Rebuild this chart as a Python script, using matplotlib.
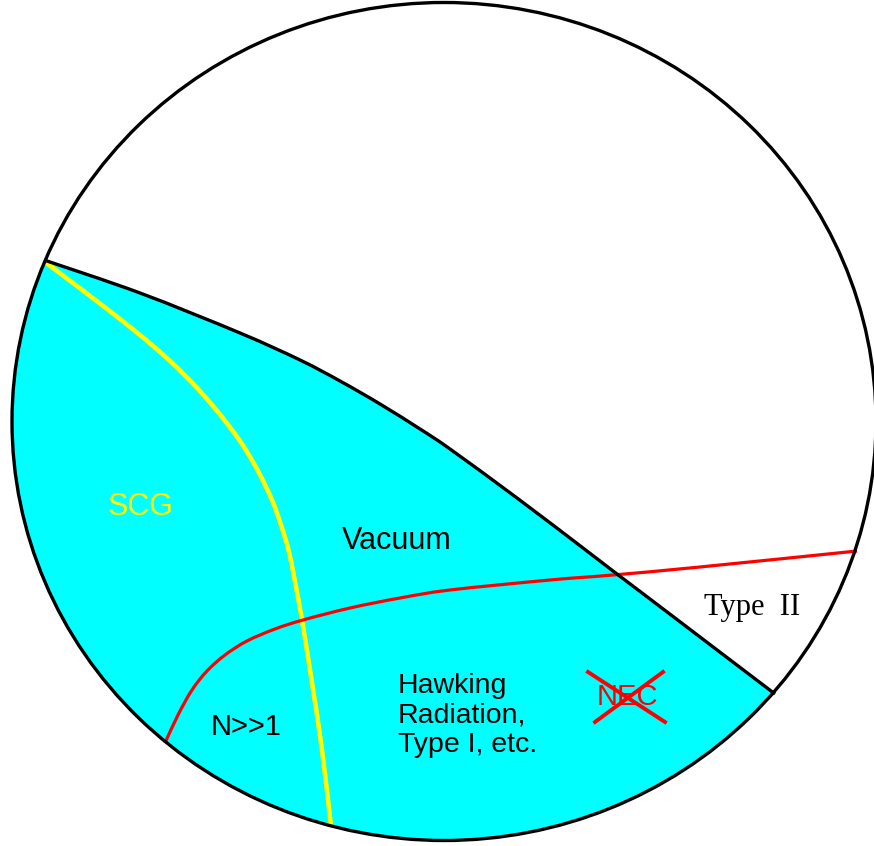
import matplotlib
matplotlib.use("Agg")
import matplotlib.pyplot as plt
import numpy as np
from matplotlib.patches import Ellipse, PathPatch
from matplotlib.path import Path

# diagram laid out in image pixel coordinates (y grows downward)
circle_center = (444, 421.5)
circle_size = (864, 838)

# black boundary between the cyan region and the white region
boundary_x = [44, 140, 240, 300, 340, 380, 420, 450, 517, 583, 613, 650, 700, 775]
boundary_y = [260, 293, 333, 360, 381, 404, 429, 449, 498, 548, 571, 599, 637, 694]

# yellow SCG curve
scg_x = [45, 73, 107, 140, 170, 198, 222, 242, 258, 272, 281, 289, 296, 302, 312, 322, 331]
scg_y = [262, 283, 309, 335, 361, 389, 417, 444, 471, 500, 525, 552, 587, 620, 683, 750, 826]

# red NEC curve
nec_x = [165, 178, 192, 207, 225, 247, 275, 303, 350, 400, 450, 550, 613, 700, 857]
nec_y = [743, 715, 690, 671, 655, 641, 629, 620, 608, 598, 590, 580, 575, 567, 551]

labels = ["SCG", "Vacuum", "N>>1", "Hawking\nRadiation,\nType I, etc.", "NEC", "Type  II"]


def smooth(xs, ys):
    """Vertices and codes of a Catmull-Rom curve through the given points."""
    pts = np.column_stack([xs, ys]).astype(float)
    verts = [pts[0]]
    codes = [Path.MOVETO]
    n = len(pts)
    for i in range(n - 1):
        p0 = pts[i - 1] if i > 0 else pts[i]
        p1, p2 = pts[i], pts[i + 1]
        p3 = pts[i + 2] if i + 2 < n else pts[i + 1]
        verts += [p1 + (p2 - p0) / 6, p2 - (p3 - p1) / 6, p2]
        codes += [Path.CURVE4] * 3
    return verts, codes


def curve(ax, xs, ys, **kw):
    verts, codes = smooth(xs, ys)
    ax.add_patch(PathPatch(Path(verts, codes), facecolor="none",
                           capstyle="butt", joinstyle="round", **kw))


fig = plt.figure(figsize=(8.74, 8.46), dpi=100)
ax = fig.add_axes([0, 0, 1, 1])
ax.set_xlim(0, 874)
ax.set_ylim(846, 0)
ax.axis("off")

# cyan region: below the boundary, clipped to the circle
clip = Ellipse(circle_center, *circle_size, transform=ax.transData,
               facecolor="none", edgecolor="none")
ax.add_patch(clip)
verts, codes = smooth(boundary_x, boundary_y)
extra = [(900, 783), (900, 900), (-20, 900), (-20, 252), verts[0]]
verts = verts + extra
codes = codes + [Path.LINETO] * (len(extra) - 1) + [Path.CLOSEPOLY]
fill = PathPatch(Path(verts, codes), facecolor="#00FFFF", edgecolor="none")
ax.add_patch(fill)
fill.set_clip_path(clip)

curve(ax, scg_x, scg_y, edgecolor="#FFFF00", lw=3.3)
curve(ax, nec_x, nec_y, edgecolor="#FF0000", lw=2.3)
curve(ax, boundary_x, boundary_y, edgecolor="black", lw=2.4)

ax.add_patch(Ellipse(circle_center, *circle_size, facecolor="none",
                     edgecolor="black", lw=2.4))

sans = "Liberation Sans"
ax.text(141, 507, labels[0], color="#FFFF00", fontsize=22, family=sans,
        ha="center", va="center")
ax.text(397, 541, labels[1], color="black", fontsize=22, family=sans,
        ha="center", va="center")
ax.text(246, 727, labels[2], color="black", fontsize=21, family=sans,
        ha="center", va="center")
ax.text(398, 673, labels[3], color="black", fontsize=20.5, family=sans,
        ha="left", va="top", linespacing=1.18)
ax.text(627, 697, labels[4], color="#FF0000", fontsize=21, family=sans,
        ha="center", va="center")
ax.plot([588, 665], [672, 722], color="#FF0000", lw=2.8)
ax.plot([663, 595], [672, 722], color="#FF0000", lw=2.8)
ax.text(752, 607, labels[5], color="black", fontsize=22, family="Liberation Serif",
        ha="center", va="center")

fig.savefig("out.png", dpi=100)
